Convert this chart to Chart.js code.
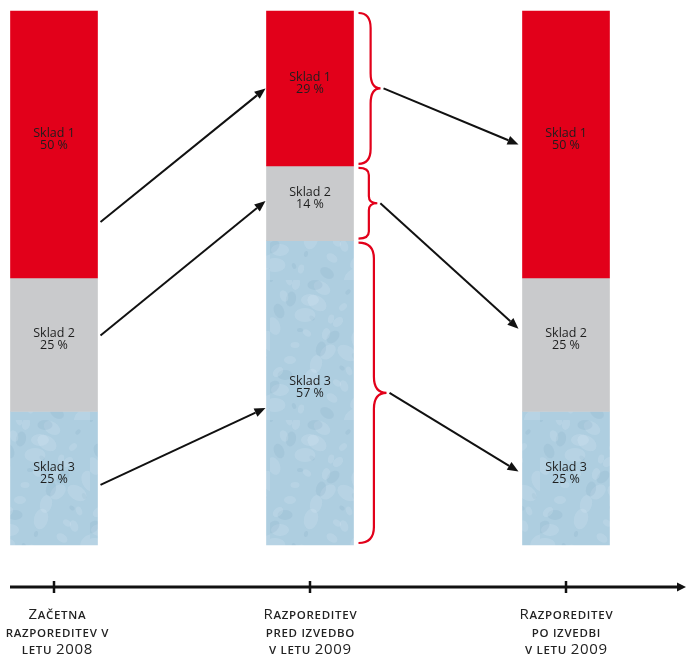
<!DOCTYPE html>
<html>
<head>
<meta charset="utf-8">
<script src="https://cdn.jsdelivr.net/npm/chart.js@4/dist/chart.umd.min.js"></script>
<style>
  html, body { margin: 0; padding: 0; background: #fff; }
  canvas { display: block; }
</style>
</head>
<body>
<canvas id="myChart" width="686" height="659"></canvas>
<script>
// stolpci (kategorije), vsaka kot vrstice napisa pod osjo
const categories = [
    ["Začetna", "razporeditev v", "letu 2008"],
    ["Razporeditev", "pred izvedbo", "v letu 2009"],
    ["Razporeditev", "po izvedbi", "v letu 2009"]
];
const seriesNames = ["Sklad 1", "Sklad 2", "Sklad 3"];
const sklad1 = [50, 29, 50];
const sklad2 = [25, 14, 25];
const sklad3 = [25, 57, 25];

// svetlo modra "ledena" tekstura za sklad 3
function makeIce(ctx) {
    let c = document.createElement("canvas");
    c.width = 90; c.height = 140;
    let g = c.getContext("2d");
    g.fillStyle = "#aecee0";
    g.fillRect(0, 0, 90, 140);
    for (let i = 0; i < 46; i++) {
        let x = (i * 37) % 90;
        let y = (i * 53) % 140;
        let r = 2 + (i * 7) % 6;
        g.fillStyle = i % 3 === 0 ? "rgba(110,150,180,0.12)" : "rgba(225,240,250,0.18)";
        g.beginPath();
        g.ellipse(x, y, r * 1.5, r, (i % 5) * 0.6, 0, Math.PI * 2);
        g.fill();
    }
    return ctx.createPattern(c, "repeat");
}

let canvas = document.getElementById("myChart");
let ctx = canvas.getContext("2d");

function segBox(chart, d, i) {
    let el = chart.getDatasetMeta(d).data[i];
    return {
        left: el.x - el.width / 2,
        right: el.x + el.width / 2,
        top: Math.min(el.y, el.base),
        bottom: Math.max(el.y, el.base),
        cx: el.x
    };
}

function arrow(c, x1, y1, x2, y2) {
    let a = Math.atan2(y2 - y1, x2 - x1);
    let len = 11, hw = 4.5;
    let bx = x2 - len * Math.cos(a), by = y2 - len * Math.sin(a);
    c.strokeStyle = "#111";
    c.fillStyle = "#111";
    c.lineWidth = 2;
    c.beginPath();
    c.moveTo(x1, y1);
    c.lineTo(bx, by);
    c.stroke();
    c.beginPath();
    c.moveTo(x2, y2);
    c.lineTo(bx + hw * Math.sin(a), by - hw * Math.cos(a));
    c.lineTo(bx - hw * Math.sin(a), by + hw * Math.cos(a));
    c.closePath();
    c.fill();
}

function brace(c, x0, yt, yb) {
    let h = yb - yt;
    let w = 16 + h * 0.04;
    let xv = x0 + w * 0.55;
    let ym = (yt + yb) / 2;
    let r = Math.min(16, h * 0.1);
    c.strokeStyle = "#e2001a";
    c.lineWidth = 2.2;
    c.beginPath();
    c.moveTo(x0, yt);
    c.quadraticCurveTo(xv, yt, xv, yt + r);
    c.lineTo(xv, ym - r);
    c.quadraticCurveTo(xv, ym, x0 + w, ym);
    c.quadraticCurveTo(xv, ym, xv, ym + r);
    c.lineTo(xv, yb - r);
    c.quadraticCurveTo(xv, yb, x0, yb);
    c.stroke();
    return { x: x0 + w, y: ym };
}

// napis v pomanjšanih velikih črkah
function smallCaps(c, text, cx, y) {
    let big = "15px 'Open Sans'", small = "600 11.5px 'Open Sans'";
    let sp = 0.7;
    let parts = [];
    let total = 0;
    for (let ch of text) {
        let isBig = ch !== ch.toLowerCase() || /[0-9]/.test(ch);
        let font = isBig ? big : small;
        let t = isBig ? ch : ch.toUpperCase();
        c.font = font;
        let w = c.measureText(t).width + sp;
        parts.push([t, font, w]);
        total += w;
    }
    let x = cx - (total - sp) / 2;
    c.fillStyle = "#222";
    c.textAlign = "left";
    c.textBaseline = "alphabetic";
    for (let p of parts) {
        c.font = p[1];
        c.fillText(p[0], x, y);
        x += p[2];
    }
}

const extras = {
    id: "extras",
    afterDatasetsDraw(chart) {
        let c = chart.ctx;
        c.save();
        // napisi v stolpcih
        c.font = "12.5px 'Open Sans'";
        c.fillStyle = "#1e1e1e";
        c.textAlign = "center";
        c.textBaseline = "middle";
        for (let d = 0; d < 3; d++) {
            for (let i = 0; i < 3; i++) {
                let b = segBox(chart, d, i);
                let my = (b.top + b.bottom) / 2 - 5;
                c.fillText(chart.data.datasets[d].label, b.cx, my - 6);
                c.fillText(chart.data.datasets[d].data[i] + " %", b.cx, my + 6);
            }
        }
        // zaviti oklepaji pri drugem stolpcu
        let tips = [];
        for (let d = 0; d < 3; d++) {
            let b = segBox(chart, d, 1);
            tips.push(brace(c, b.right + 5, b.top + 2, b.bottom - 2));
        }
        // puščice
        let fromA = [0.79, 0.43, 0.55];
        let toB = [0.5, 0.47, 0.55];
        let toC = [0.5, 0.38, 0.45];
        for (let d = 0; d < 3; d++) {
            let a = segBox(chart, d, 0);
            let b = segBox(chart, d, 1);
            let e = segBox(chart, d, 2);
            arrow(c, a.right + 3, a.top + fromA[d] * (a.bottom - a.top),
                  b.left - 1, b.top + toB[d] * (b.bottom - b.top));
            arrow(c, tips[d].x + 3, tips[d].y,
                  e.left - 4, e.top + toC[d] * (e.bottom - e.top));
        }
        // os x s puščico
        let ay = chart.chartArea.bottom + 42;
        let w = chart.width;
        c.strokeStyle = "#111";
        c.fillStyle = "#111";
        c.lineWidth = 3;
        c.beginPath();
        c.moveTo(10, ay);
        c.lineTo(w - 7, ay);
        c.stroke();
        c.beginPath();
        c.moveTo(w, ay);
        c.lineTo(w - 9, ay - 4.5);
        c.lineTo(w - 9, ay + 4.5);
        c.closePath();
        c.fill();
        let xs = chart.scales.x;
        c.lineWidth = 2.5;
        for (let i = 0; i < categories.length; i++) {
            let x = xs.getPixelForValue(i);
            c.beginPath();
            c.moveTo(x, ay - 6);
            c.lineTo(x, ay + 6);
            c.stroke();
            categories[i].forEach((line, k) => {
                smallCaps(c, line, x + (i === 0 ? 3 : 0), ay + 32 + k * 17.5);
            });
        }
        c.restore();
    }
};

let myChart = new Chart(ctx, {
    type: "bar",
    data: {
        labels: categories.map(l => l.join(" ")),
        datasets: [
            { label: seriesNames[0], data: sklad1, backgroundColor: "#e2001a" },
            { label: seriesNames[1], data: sklad2, backgroundColor: "#c9cacc" },
            { label: seriesNames[2], data: sklad3, backgroundColor: makeIce(ctx) }
        ]
    },
    options: {
        responsive: false,
        devicePixelRatio: 1,
        animation: false,
        layout: { padding: { left: 54, right: 120, top: 11, bottom: 114 } },
        datasets: { bar: { barThickness: 87, borderWidth: 0, clip: false } },
        plugins: { legend: { display: false }, tooltip: { enabled: false } },
        scales: {
            x: { display: false, stacked: true, offset: false },
            y: { display: false, stacked: true, reverse: true, min: 0, max: 100 }
        }
    },
    plugins: [extras]
});
</script>
</body>
</html>
